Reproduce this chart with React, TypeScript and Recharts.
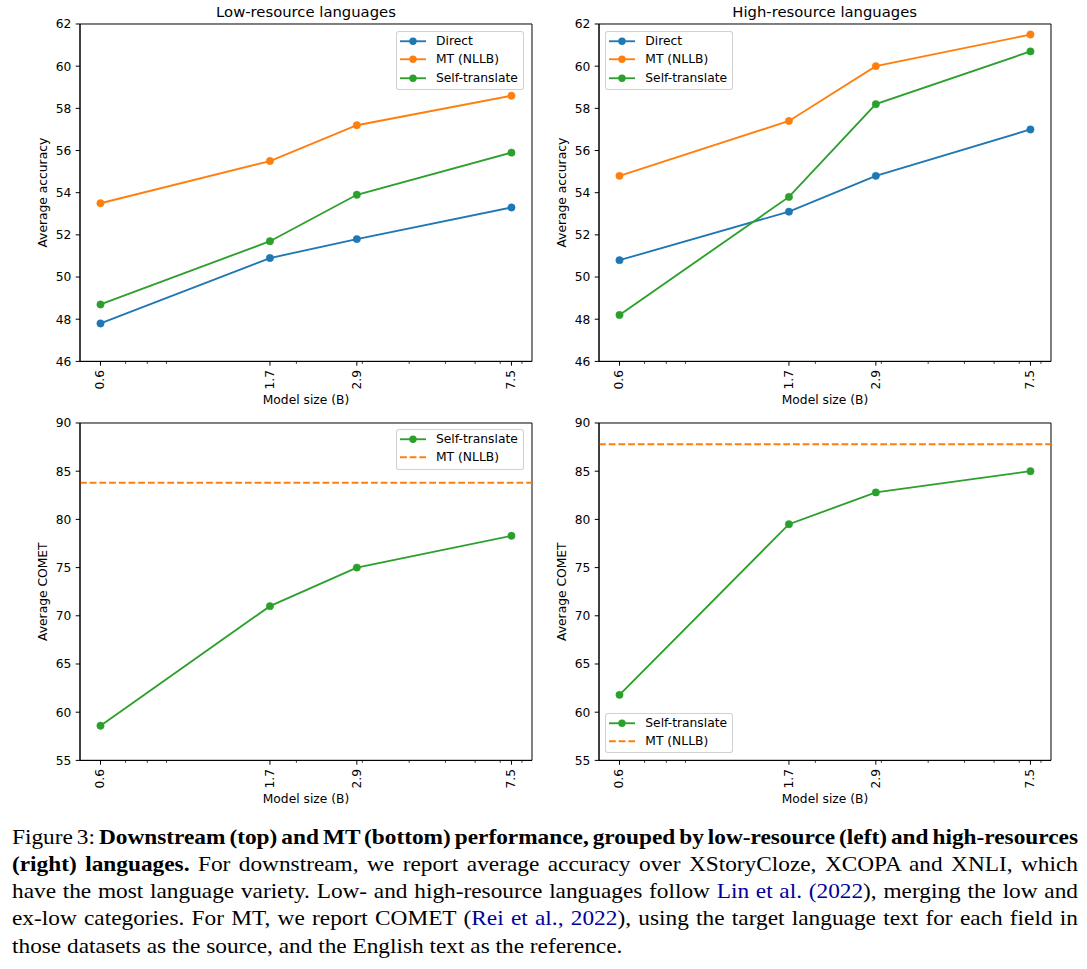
import React from 'react';
import { LineChart, Line, XAxis, YAxis, ReferenceLine, ReferenceArea, Legend } from 'recharts';

const FONT = '"DejaVu Sans", sans-serif';
const BLUE = '#1f77b4';
const ORANGE = '#ff7f0e';
const GREEN = '#2ca02c';

// model sizes (B), log x axis
const SIZES = [0.6, 1.7, 2.9, 7.5];
const MINOR_SIZES = [0.7, 0.8, 0.9, 2, 3, 4, 5, 6, 7, 8];
const X_DOMAIN: [number, number] = [0.529, 8.51];

const ACC_TICKS = [46, 48, 50, 52, 54, 56, 58, 60, 62];
const COMET_TICKS = [55, 60, 65, 70, 75, 80, 85, 90];

// downstream accuracy
const LOW_DIRECT = [47.8, 50.9, 51.8, 53.3];
const LOW_MT = [53.5, 55.5, 57.2, 58.6];
const LOW_SELF = [48.7, 51.7, 53.9, 55.9];
const HIGH_DIRECT = [50.8, 53.1, 54.8, 57.0];
const HIGH_MT = [54.8, 57.4, 60.0, 61.5];
const HIGH_SELF = [48.2, 53.8, 58.2, 60.7];

// MT quality (COMET)
const LOW_COMET_SELF = [58.6, 71.0, 75.0, 78.3];
const HIGH_COMET_SELF = [61.8, 79.5, 82.8, 85.0];
const LOW_COMET_MT = 83.8;
const HIGH_COMET_MT = 87.8;

const ALL_X_TICKS = [...SIZES, ...MINOR_SIZES].sort((a, b) => a - b);

type Series = { key: string; name: string; color: string; values: number[] };

function buildRows(series: Series[]) {
  return SIZES.map((s, i) => {
    const row: Record<string, number> = { size: s };
    for (const se of series) row[se.key] = se.values[i];
    return row;
  });
}

function LogTick(props: any) {
  const { x, y, payload } = props;
  const major = SIZES.includes(payload.value);
  return (
    <g>
      <line x1={x} x2={x} y1={y} y2={y + (major ? 4.3 : 2.5)} stroke="#000" strokeWidth={major ? 1 : 0.75} />
      {major && (
        <text
          x={x}
          y={y + 8.6}
          transform={`rotate(-90, ${x}, ${y + 8.6})`}
          textAnchor="end"
          dominantBaseline="central"
          fontSize={12.3}
          fontFamily={FONT}
          fill="#000"
        >
          {String(payload.value)}
        </text>
      )}
    </g>
  );
}

type LegendItem = { label: string; color: string; dashed?: boolean };

function LegendBox({ items }: { items: LegendItem[] }) {
  return (
    <div
      style={{
        boxSizing: 'border-box',
        width: 128,
        paddingBottom: 1.75,
        border: '1px solid rgba(204,204,204,0.9)',
        borderRadius: 3,
        background: 'rgba(255,255,255,0.8)',
        fontFamily: FONT,
        fontSize: 12.3,
        color: '#000',
      }}
    >
      {items.map(it => (
        <div key={it.label} style={{ display: 'flex', alignItems: 'center', height: 18.5 }}>
          <svg width={39} height={18.5} style={{ flex: 'none', display: 'block' }}>
            <line
              x1={3}
              x2={29}
              y1={9.25}
              y2={9.25}
              stroke={it.color}
              strokeWidth={1.85}
              strokeDasharray={it.dashed ? '6.8 2.9' : undefined}
            />
            {!it.dashed && <circle cx={16} cy={9.25} r={3.7} fill={it.color} />}
          </svg>
          <span style={{ lineHeight: '18.5px', whiteSpace: 'nowrap' }}>{it.label}</span>
        </div>
      ))}
    </div>
  );
}

const CHART_W = 540;
const CHART_H = 24 + 337.4 + 48;

type PanelProps = {
  left: number;
  top: number;
  title?: string;
  yLabel: string;
  yDomain: [number, number];
  yTicks: number[];
  series: Series[];
  mtLine?: number;
  legend: LegendItem[];
  legendPos: { left: number; top: number };
};

function Panel({ left, top, title, yLabel, yDomain, yTicks, series, mtLine, legend, legendPos }: PanelProps) {
  const data = buildRows(series);
  return (
    <div style={{ position: 'absolute', left, top, width: CHART_W, height: CHART_H }}>
      {title && (
        <div
          style={{
            position: 'absolute',
            left: 80,
            width: 452,
            top: 5,
            textAlign: 'center',
            fontFamily: FONT,
            fontSize: 14.8,
            lineHeight: 1,
            color: '#000',
            whiteSpace: 'nowrap',
          }}
        >
          {title}
        </div>
      )}
      <LineChart width={CHART_W} height={CHART_H} data={data} margin={{ top: 24, right: 8, left: 0, bottom: 0 }}>
        <XAxis
          dataKey="size"
          type="number"
          scale="log"
          domain={X_DOMAIN}
          allowDataOverflow
          ticks={ALL_X_TICKS}
          interval={0}
          height={48}
          tickSize={0}
          tickMargin={0}
          tickLine={false}
          axisLine={{ stroke: '#000', strokeWidth: 1 }}
          tick={<LogTick />}
          label={(p: any) => {
            const vb = p.viewBox;
            return (
              <text x={vb.x + vb.width / 2} y={vb.y + 42.5} textAnchor="middle" fontSize={12.3} fontFamily={FONT} fill="#000">
                Model size (B)
              </text>
            );
          }}
        />
        <YAxis
          type="number"
          domain={yDomain}
          ticks={yTicks}
          interval={0}
          width={80}
          tickSize={4.3}
          tickMargin={4.3}
          tickLine={{ stroke: '#000', strokeWidth: 1 }}
          axisLine={{ stroke: '#000', strokeWidth: 1 }}
          tick={{ fill: '#000', fontSize: 12.3, fontFamily: FONT }}
          label={(p: any) => {
            const vb = p.viewBox;
            const cx = vb.x + vb.width - 36.6;
            const cy = vb.y + vb.height / 2;
            return (
              <text
                x={cx}
                y={cy}
                transform={`rotate(-90, ${cx}, ${cy})`}
                textAnchor="middle"
                dominantBaseline="central"
                fontSize={12.3}
                fontFamily={FONT}
                fill="#000"
              >
                {yLabel}
              </text>
            );
          }}
        />
        {/* axes frame (top and right spines) */}
        <ReferenceArea
          x1={X_DOMAIN[0]}
          x2={X_DOMAIN[1]}
          y1={yDomain[0]}
          y2={yDomain[1]}
          stroke="#000"
          strokeWidth={1}
          fill="none"
          fillOpacity={0}
          strokeOpacity={1}
          ifOverflow="visible"
        />
        {mtLine !== undefined && (
          <ReferenceLine y={mtLine} stroke={ORANGE} strokeWidth={1.85} strokeDasharray="6.8 2.9" />
        )}
        {series.map(se => (
          <Line
            key={se.key}
            dataKey={se.key}
            name={se.name}
            stroke={se.color}
            strokeWidth={1.85}
            dot={{ r: 3.7, fill: se.color, stroke: se.color, strokeWidth: 0.5 }}
            activeDot={false}
            isAnimationActive={false}
          />
        ))}
        <Legend
          layout="vertical"
          align="center"
          verticalAlign="middle"
          wrapperStyle={{ left: legendPos.left, top: legendPos.top, width: 'auto', height: 'auto' }}
          content={() => <LegendBox items={legend} />}
        />
      </LineChart>
    </div>
  );
}

const ACC_LEGEND: LegendItem[] = [
  { label: 'Direct', color: BLUE },
  { label: 'MT (NLLB)', color: ORANGE },
  { label: 'Self-translate', color: GREEN },
];
const COMET_LEGEND: LegendItem[] = [
  { label: 'Self-translate', color: GREEN },
  { label: 'MT (NLLB)', color: ORANGE, dashed: true },
];

const LINK = '#000099';
const SCALE_X = 1.11;
const lineStyle: React.CSSProperties = {
  textAlign: 'justify',
  textAlignLast: 'justify',
  whiteSpace: 'nowrap',
  wordSpacing: -2,
};

function Caption() {
  return (
    <div
      style={{
        position: 'absolute',
        left: 11.7,
        top: 823.6,
        width: 1066 / SCALE_X,
        transform: `scaleX(${SCALE_X})`,
        transformOrigin: '0 0',
        fontFamily: '"Liberation Serif", "Times New Roman", serif',
        fontSize: 21,
        lineHeight: '27.25px',
        color: '#000',
      }}
    >
      <div style={{ ...lineStyle, wordSpacing: -3 }}>
        Figure 3: <b>Downstream (top) and MT (bottom) performance, grouped by low-resource (left) and high-resources</b>
      </div>
      <div style={lineStyle}>
        <b>(right) languages.</b> For downstream, we report average accuracy over XStoryCloze, XCOPA and XNLI, which
      </div>
      <div style={lineStyle}>
        have the most language variety. Low- and high-resource languages follow <span style={{ color: LINK }}>Lin et al. (2022</span>), merging the low and
      </div>
      <div style={lineStyle}>
        ex-low categories. For MT, we report COMET (<span style={{ color: LINK }}>Rei et al., 2022</span>), using the target language text for each field in
      </div>
      <div style={{ whiteSpace: 'nowrap' }}>those datasets as the source, and the English text as the reference.</div>
    </div>
  );
}

export default function App() {
  return (
    <div style={{ position: 'absolute', left: 0, top: 0, width: 1087, height: 969, background: '#fff', overflow: 'hidden' }}>
      <Panel
        left={0}
        top={0.3}
        title="Low-resource languages"
        yLabel="Average accuracy"
        yDomain={[46, 62]}
        yTicks={ACC_TICKS}
        series={[
          { key: 'direct', name: 'Direct', color: BLUE, values: LOW_DIRECT },
          { key: 'mt', name: 'MT (NLLB)', color: ORANGE, values: LOW_MT },
          { key: 'self', name: 'Self-translate', color: GREEN, values: LOW_SELF },
        ]}
        legend={ACC_LEGEND}
        legendPos={{ left: 396, top: 30.7 }}
      />
      <Panel
        left={518.7}
        top={0.3}
        title="High-resource languages"
        yLabel="Average accuracy"
        yDomain={[46, 62]}
        yTicks={ACC_TICKS}
        series={[
          { key: 'direct', name: 'Direct', color: BLUE, values: HIGH_DIRECT },
          { key: 'mt', name: 'MT (NLLB)', color: ORANGE, values: HIGH_MT },
          { key: 'self', name: 'Self-translate', color: GREEN, values: HIGH_SELF },
        ]}
        legend={ACC_LEGEND}
        legendPos={{ left: 86.6, top: 30.7 }}
      />
      <Panel
        left={0}
        top={399.3}
        yLabel="Average COMET"
        yDomain={[55, 90]}
        yTicks={COMET_TICKS}
        series={[{ key: 'self', name: 'Self-translate', color: GREEN, values: LOW_COMET_SELF }]}
        mtLine={LOW_COMET_MT}
        legend={COMET_LEGEND}
        legendPos={{ left: 396, top: 29.7 }}
      />
      <Panel
        left={518.7}
        top={399.3}
        yLabel="Average COMET"
        yDomain={[55, 90]}
        yTicks={COMET_TICKS}
        series={[{ key: 'self', name: 'Self-translate', color: GREEN, values: HIGH_COMET_SELF }]}
        mtLine={HIGH_COMET_MT}
        legend={COMET_LEGEND}
        legendPos={{ left: 86.6, top: 313.4 }}
      />
      <Caption />
    </div>
  );
}
